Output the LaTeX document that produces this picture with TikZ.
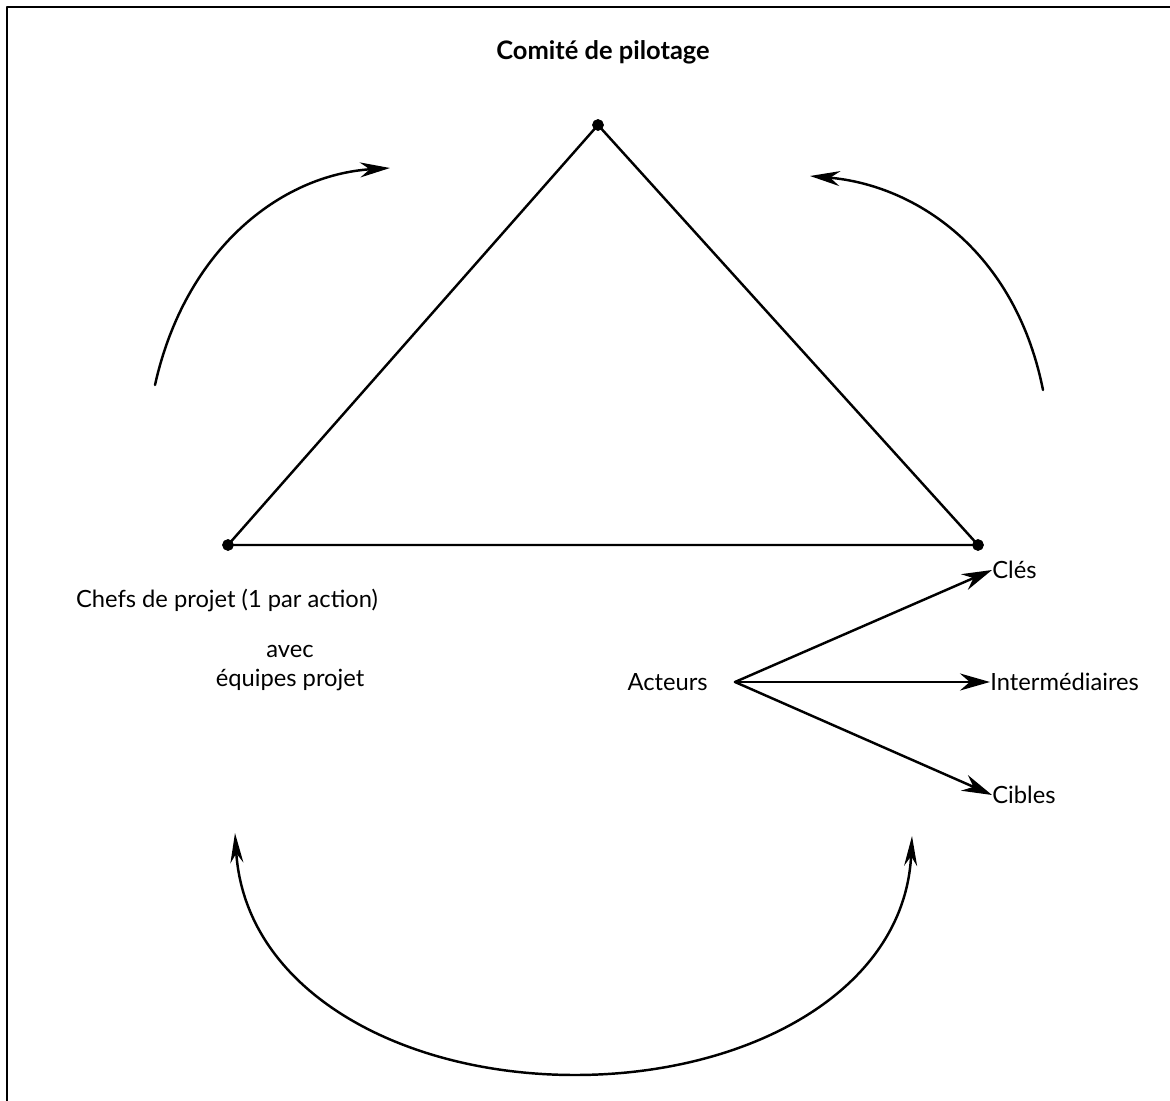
\documentclass[tikz,border=0pt]{standalone}
\usepackage{fontspec}
\setmainfont{Lato}
\usetikzlibrary{arrows.meta}
\begin{document}
\begin{tikzpicture}[x=0.02cm,y=-0.02cm,>={Stealth[length=6mm,width=3mm]}, font=\fontsize{13.5}{16.5}\selectfont, line join=round, line cap=round,
	lbl/.style={inner sep=0pt},
	trait/.style={line width=1.4pt},
	fleche/.style={line width=1.4pt,->}]
		\useasboundingbox (0,0) rectangle (1170,1101);
		% cadre
		\draw[line width=1.3pt,line cap=butt] (7,1101)--(7,7)--(1170,7);
		% triangle
		\coordinate (pil) at (598,125);
		\coordinate (chefs) at (228,545);
		\coordinate (clesp) at (978,545);
		\draw[trait] (pil)--(chefs)--(clesp)--cycle;
		\draw[fill=black](pil)circle(5.5);
		\draw[fill=black](chefs)circle(5.5);
		\draw[fill=black](clesp)circle(5.5);
		\node[lbl,font=\fontsize{14.5}{17}\selectfont\bfseries] (comite) at (603,52) {Comité de pilotage};
		\node[lbl] (chefstxt) at (227,600) {Chefs de projet (1 par action)};
		\node[lbl,align=center] (equipes) at (290,668) {avec\\équipes projet};
		% acteurs
		\node[lbl,anchor=east] (acteurs) at (708,682) {Acteurs};
		\coordinate (src) at (735,682);
		\node[lbl,anchor=west] (cles) at (992,570) {Clés};
		\node[lbl,anchor=west] (inter) at (990,682) {Intermédiaires};
		\node[lbl,anchor=west] (cibles) at (992,795) {Cibles};
		\draw[fleche,-{Stealth[length=6mm,width=3.4mm]}] (src)--(cles.west);
		\draw[fleche,-{Stealth[length=6mm,width=3.4mm]}] (src)--(inter.west);
		\draw[fleche,-{Stealth[length=6mm,width=3.4mm]}] (src)--(cibles.west);
		% boucles
		\coordinate (ga) at (155,385);
		\coordinate (gb) at (390,168);
		\coordinate (da) at (1043,390);
		\coordinate (db) at (810,176);
		\draw[fleche] (ga) .. controls (185,250) and (280,175) .. (gb);
		\draw[fleche] (da) .. controls (1015,250) and (915,185) .. (db);
		\coordinate (ba) at (235,833);
		\coordinate (bm) at (575,1075);
		\coordinate (bb) at (912,836);
		\draw[line width=1.4pt,{Stealth[length=6mm,width=2.6mm]}-{Stealth[length=6mm,width=2.6mm]}] (ba) .. controls (245,990) and (400,1075) .. (bm) .. controls (750,1075) and (905,990) .. (bb);
		\end{tikzpicture}
\end{document}
